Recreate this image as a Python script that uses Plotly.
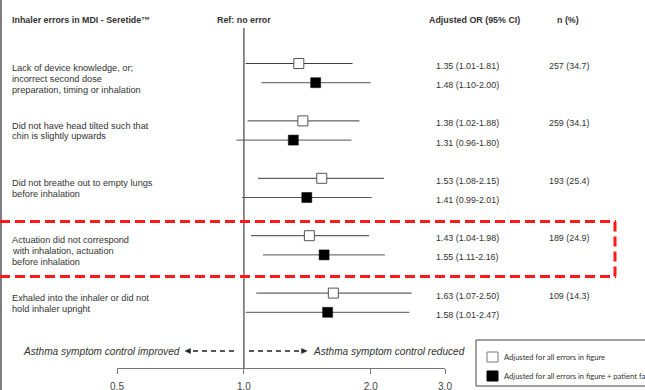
import math
import plotly.graph_objects as go

# ---- data -------------------------------------------------------------
error_labels = [
    ["Lack of device knowledge, or;", "incorrect second dose",
     "preparation, timing or inhalation"],
    ["Did not have head tilted such that", "chin is slightly upwards"],
    ["Did not breathe out to empty lungs", "before inhalation"],
    ["Actuation did not correspond", "with inhalation, actuation", "before inhalation"],
    ["Exhaled into the inhaler or did not", "hold inhaler upright"],
]
# adjusted for all errors in figure
or_errors = [1.35, 1.38, 1.53, 1.43, 1.63]
lo_errors = [1.01, 1.02, 1.08, 1.04, 1.07]
hi_errors = [1.81, 1.88, 2.15, 1.98, 2.50]
# adjusted for all errors in figure + patient factors
or_patient = [1.48, 1.31, 1.41, 1.55, 1.58]
lo_patient = [1.10, 0.96, 0.99, 1.11, 1.01]
hi_patient = [2.00, 1.80, 2.01, 2.16, 2.47]
n_count = [257, 259, 193, 189, 109]
n_pct = [34.7, 34.1, 25.4, 24.9, 14.3]
highlight_row = 3
tick_vals = [0.5, 1.0, 2.0, 3.0]
tick_text = ["0.5", "1.0", "2.0", "3.0"]

# ---- page geometry (pixels) -------------------------------------------
W, H = 645, 390
PL, PR, PB = 117, 445, 368          # plot area: left, right, bottom edge
ROW0, ROW_STEP, PAIR_GAP = 63.5, 57.4, 19.2
LINE_H = 10.8

FONT = "Liberation Sans, Arial, sans-serif"
TXT = "#333333"


def px(x):
    """page x pixel -> paper x"""
    return (x - PL) / (PR - PL)


def py(y):
    """page y pixel -> paper y"""
    return (PB - y) / PB


rows_a = [ROW0 + ROW_STEP * i for i in range(len(or_errors))]
rows_b = [y + PAIR_GAP for y in rows_a]

fig = go.Figure()


def ci_lines(lo, hi, ys, color):
    xs, yy = [], []
    for a, b, y in zip(lo, hi, ys):
        xs += [a, b, None]
        yy += [y, y, None]
    return go.Scatter(x=xs, y=yy, mode="lines", line=dict(color=color, width=1),
                      hoverinfo="skip", showlegend=False)


# reference line at OR = 1
fig.add_trace(go.Scatter(x=[1, 1], y=[28, PB], mode="lines",
                         line=dict(color="#808080", width=1.8),
                         hoverinfo="skip", showlegend=False))

fig.add_trace(ci_lines(lo_errors, hi_errors, rows_a, "#3c3c3c"))
fig.add_trace(ci_lines(lo_patient, hi_patient, rows_b, "#555555"))

fig.add_trace(go.Scatter(
    x=or_errors, y=rows_a, mode="markers", showlegend=False,
    marker=dict(symbol="square", size=10, color="white",
                line=dict(color="#555555", width=1))))
fig.add_trace(go.Scatter(
    x=or_patient, y=rows_b, mode="markers", showlegend=False,
    marker=dict(symbol="square", size=10, color="black",
                line=dict(color="black", width=0.5))))

ann = []


def text(x, y, s, size=8.5, bold=False, italic=False, anchor="left",
         family=FONT, color=TXT, yanchor="middle"):
    if bold:
        s = "<b>" + s + "</b>"
    if italic:
        s = "<i>" + s + "</i>"
    ann.append(dict(x=px(x), y=py(y), xref="paper", yref="paper", text=s,
                    showarrow=False, xanchor=anchor, yanchor=yanchor,
                    align="left", font=dict(family=family, size=size, color=color)))


# column headers
text(10, 20, "Inhaler errors in MDI - Seretide™", size=8.9, bold=True)
text(243.5, 20, "Ref: no error", size=8.9, bold=True, anchor="center")
text(474.5, 20, "Adjusted OR (95% CI)", size=8.9, bold=True, anchor="center")
text(568, 20, "n (%)", size=8.9, bold=True, anchor="center")

for i, lines in enumerate(error_labels):
    for j, s in enumerate(lines):
        text(10, rows_a[i] + 4.6 + LINE_H * j, s, size=9.2)
    text(434, rows_a[i] + 2.5,
         f"{or_errors[i]:.2f} ({lo_errors[i]:.2f}-{hi_errors[i]:.2f})", size=8.9)
    text(434, rows_b[i] + 2.5,
         f"{or_patient[i]:.2f} ({lo_patient[i]:.2f}-{hi_patient[i]:.2f})", size=8.9)
    text(547, rows_a[i] + 2.5, f"{n_count[i]} ({n_pct[i]})", size=8.9)

# direction captions
text(182, 351, "Asthma symptom control improved", size=10.1, italic=True, anchor="right")
text(311, 351, "Asthma symptom control reduced", size=10.1, italic=True)

# legend captions
text(502, 357, "Adjusted for all errors in figure", size=7.6, family="Lato, sans-serif")
text(502, 376, "Adjusted for all errors in figure + patient factors", size=7.6,
     family="Lato, sans-serif")

shapes = []


def line(x0, y0, x1, y1, color, width, dash=None):
    d = dict(type="line", xref="paper", yref="paper",
             x0=px(x0), y0=py(y0), x1=px(x1), y1=py(y1),
             line=dict(color=color, width=width))
    if dash:
        d["line"]["dash"] = dash
    shapes.append(d)


def rect(x0, y0, x1, y1, fill, border, width=1):
    shapes.append(dict(type="rect", xref="paper", yref="paper",
                       x0=px(x0), y0=py(y0), x1=px(x1), y1=py(y1),
                       fillcolor=fill, line=dict(color=border, width=width)))


def tri(points, color):
    path = "M " + " L ".join(f"{px(a)},{py(b)}" for a, b in points) + " Z"
    shapes.append(dict(type="path", xref="paper", yref="paper", path=path,
                       fillcolor=color, line=dict(color=color, width=0.5)))


# page border on the left
line(1, 0, 1, H, "#555555", 1.5)

# highlight box around one error row
top = (rows_a[highlight_row - 1] + rows_b[highlight_row - 1]) / 2 + 33.5
bot = top + 55
line(0, top, 616, top, "#ff1a1a", 3, "10px,5px")
line(0, bot, 616, bot, "#ff1a1a", 3, "10px,5px")
line(615, top, 615, bot, "#ff1a1a", 3, "10px,5px")

# dashed direction arrows
line(234, 351, 190, 351, "#222222", 1.4, "5px,4px")
tri([(185, 351), (190.5, 348.5), (190.5, 353.5)], "#222222")
line(249, 351, 302, 351, "#222222", 1.4, "5px,4px")
tri([(307, 351), (301.5, 348.5), (301.5, 353.5)], "#222222")

# legend box
rect(476, 340, 660, 386, "rgba(0,0,0,0)", "#444444", 1)
rect(487, 352, 498, 362, "white", "#777777", 1)
rect(487, 371, 498, 381, "black", "black", 1)

fig.update_layout(
    width=W, height=H,
    margin=dict(l=PL, r=W - PR, t=0, b=H - PB, pad=0, autoexpand=False),
    paper_bgcolor="white", plot_bgcolor="white",
    showlegend=False,
    annotations=ann, shapes=shapes,
    xaxis=dict(type="log", range=[math.log10(tick_vals[0]), math.log10(tick_vals[-1])],
               tickvals=tick_vals, ticktext=tick_text, automargin=False,
               showline=True, linecolor="#777777", linewidth=1,
               ticks="outside", ticklen=5, tickcolor="#777777", tickwidth=1,
               ticklabelstandoff=4,
               showgrid=False, zeroline=False,
               tickfont=dict(family=FONT, size=10, color="#444444")),
    yaxis=dict(range=[PB, 0], visible=False, showgrid=False, zeroline=False),
)

fig.write_html("out.html")
